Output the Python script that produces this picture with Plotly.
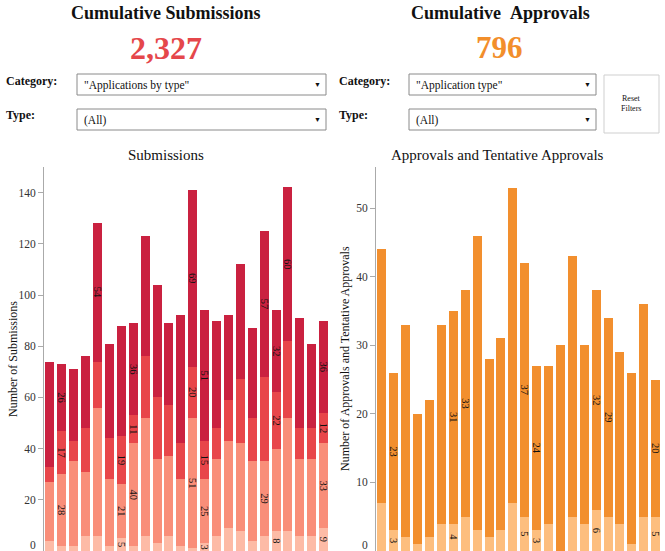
import plotly.graph_objects as go

W, H = 665, 551

# ---------------- data ----------------
periods = [f"P{i:02d}" for i in range(1, 25)]

# Submissions (stacked bottom -> top)
sub_light = [4, 2, 2, 6, 6, 2, 5, 2, 6, 3, 6, 2, 1, 3, 6, 9, 8, 4, 6, 8, 8, 6, 6, 9]
sub_salmon = [23, 28, 33, 25, 50, 26, 21, 40, 46, 33, 31, 26, 51, 25, 30, 34, 34, 31, 29, 32, 44, 30, 30, 33]
sub_red = [6, 17, 8, 17, 18, 16, 19, 11, 24, 24, 20, 14, 20, 15, 12, 16, 25, 17, 33, 22, 30, 12, 12, 12]
sub_crimson = [41, 26, 28, 28, 54, 37, 43, 36, 47, 44, 32, 50, 69, 51, 42, 33, 45, 35, 57, 32, 60, 43, 33, 36]

# which bars carry value labels (index lists per segment)
sub_light_lbl = [6, 13, 19, 23]
sub_salmon_lbl = [1, 6, 7, 12, 13, 18, 23]
sub_red_lbl = [1, 6, 7, 12, 13, 19, 23]
sub_crimson_lbl = [1, 4, 7, 12, 13, 18, 19, 20, 23]

# Approvals and tentative approvals (stacked bottom -> top)
app_light = [7, 3, 2, 1, 2, 4, 4, 5, 3, 2, 3, 7, 5, 3, 4, 0, 5, 4, 6, 5, 4, 1, 5, 5]
app_dark = [37, 23, 31, 19, 20, 29, 31, 33, 43, 26, 28, 46, 37, 24, 23, 30, 38, 26, 32, 29, 25, 25, 31, 20]
app_light_lbl = [1, 6, 12, 13, 18, 23]
app_dark_lbl = [1, 6, 7, 12, 13, 18, 19, 23]

total_sub = "2,327"
total_app = "796"

sub_ticks = [20, 40, 60, 80, 100, 120, 140]
app_ticks = [10, 20, 30, 40, 50]

C_LIGHT = "#FDBBA6"
C_SALMON = "#F98E79"
C_RED = "#E8464A"
C_CRIMSON = "#CA2140"
C_OR_LIGHT = "#FDBE7E"
C_OR = "#F28F2E"

SERIF = "Liberation Serif"


def lbl(values, idx):
    return [str(v) if i in idx else "" for i, v in enumerate(values)]


def X(px):
    return px / W


def Y(py):
    return 1 - py / H


fig = go.Figure()

txtfont = dict(family=SERIF, size=10.5, color="#111")
common = dict(textposition="inside", insidetextanchor="middle", textangle=90,
              textfont=txtfont, hoverinfo="skip", marker_line_width=0)

for vals, idx, col, name in [
    (sub_light, sub_light_lbl, C_LIGHT, "Type 1"),
    (sub_salmon, sub_salmon_lbl, C_SALMON, "Type 2"),
    (sub_red, sub_red_lbl, C_RED, "Type 3"),
    (sub_crimson, sub_crimson_lbl, C_CRIMSON, "Type 4"),
]:
    fig.add_trace(go.Bar(x=periods, y=vals, text=lbl(vals, idx), marker_color=col,
                         name=name, xaxis="x", yaxis="y", **common))

for vals, idx, col, name in [
    (app_light, app_light_lbl, C_OR_LIGHT, "Tentative"),
    (app_dark, app_dark_lbl, C_OR, "Approval"),
]:
    fig.add_trace(go.Bar(x=periods, y=vals, text=lbl(vals, idx), marker_color=col,
                         name=name, xaxis="x2", yaxis="y2", **common))

ydom = [0, (H - 167) / H]
tickfont = dict(family=SERIF, size=11.5, color="#333")
yax = dict(showline=True, linecolor="#aaa", linewidth=1, ticks="outside", ticklen=5,
           tickcolor="#aaa", showgrid=False, zeroline=False, tickfont=tickfont, domain=ydom)

fig.update_layout(
    width=W, height=H, margin=dict(l=0, r=0, t=0, b=0),
    paper_bgcolor="white", plot_bgcolor="white", showlegend=False,
    barmode="stack", bargap=0.24,
    uniformtext=dict(minsize=10.5, mode="show"),
    xaxis=dict(domain=[X(44), X(329.6)], visible=False),
    xaxis2=dict(domain=[X(376), X(661.6)], visible=False),
    yaxis=dict(range=[0, 150], tickvals=sub_ticks, **yax),
    yaxis2=dict(range=[0, 56], tickvals=app_ticks, anchor="x2", **yax),
)

ann = []
shapes = []


def text(x, y, s, size, color="#111", bold=False, family=SERIF, xanchor="center", angle=0):
    ann.append(dict(x=X(x), y=Y(y), xref="paper", yref="paper", text=f"<b>{s}</b>" if bold else s,
                    showarrow=False, xanchor=xanchor, yanchor="middle", textangle=angle,
                    font=dict(family=family, size=size, color=color)))


def box(x0, y0, x1, y1, color="#8a8a8a"):
    shapes.append(dict(type="rect", xref="paper", yref="paper", x0=X(x0), x1=X(x1), y0=Y(y1), y1=Y(y0),
                       line=dict(color=color, width=1), fillcolor="white", layer="below"))


# headers
text(166, 13, "Cumulative Submissions", 18, bold=True)
text(500, 13, "Cumulative&nbsp;&nbsp;Approvals", 18, bold=True)
text(166, 48, total_sub, 32, color="#E5474B", bold=True)
text(499, 47, total_app, 31, color="#F28E2B", bold=True)

# filters
for lx, bx0, bx1, cat in [(4, 77, 326, '"Applications by type"'), (337, 409, 596, '"Application type"')]:
    text(lx, 81, "Category:", 12, bold=True, xanchor="left")
    text(lx, 115, "Type:", 12, bold=True, xanchor="left")
    box(bx0, 74, bx1, 95)
    box(bx0, 109, bx1, 130)
    text(bx0 + 5, 85, cat, 11.5, xanchor="left")
    text(bx0 + 5, 120, "(All)", 11.5, xanchor="left")
    text(bx1 - 9, 85, "▼", 7)
    text(bx1 - 9, 120, "▼", 7)

box(604, 75, 659, 133, color="#cfcfcf")
text(631, 98, "Reset", 8)
text(631, 108, "Filters", 8)

# chart titles
text(166, 155, "Submissions", 15)
text(497, 155, "Approvals and Tentative Approvals", 15)

# y axis titles
text(13, 359, "Number of Submissions", 12, angle=-90)
text(345, 359, "Number of Approvals and Tentative Approvals", 12, angle=-90)

# zero tick labels (baseline is at the cut-off bottom edge)
text(38, 545, "0", 11.5, color="#333", xanchor="right")
text(370, 545, "0", 11.5, color="#333", xanchor="right")

fig.update_layout(annotations=ann, shapes=shapes)
fig.write_html("out.html", config={"displayModeBar": False},
               post_script="document.body.style.margin='0px';document.body.style.overflow='hidden';")
